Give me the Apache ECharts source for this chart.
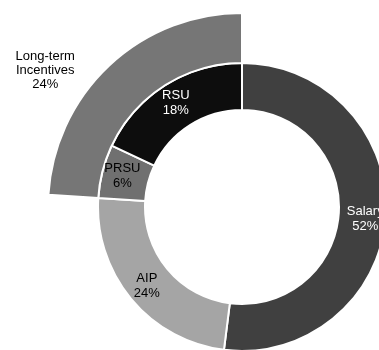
<!DOCTYPE html>
<html>
<head>
<meta charset="utf-8">
<style>
  html, body { margin: 0; padding: 0; background: #fff; }
  #chart { width: 379px; height: 350px; }
</style>
<script src="https://cdn.jsdelivr.net/npm/echarts@6/dist/echarts.min.js"></script>
</head>
<body>
<div id="chart"></div>
<script>
// Pay mix: inner ring breaks down each pay element, outer ring groups the long-term pieces
const titleText = 'CEO Target Total Compensation';

const innerNames = ['Salary', 'AIP', 'PRSU', 'RSU'];
const innerValues = [52, 24, 6, 18];
const innerColors = ['#404040', '#a5a5a5', '#707070', '#0d0d0d'];
const innerLabelColors = ['#ffffff', '#000000', '#000000', '#ffffff'];

const outerNames = ['', 'Long-term\nIncentives'];
const outerValues = [76, 24];
const outerColors = ['transparent', '#767676'];

const FONT = '"Liberation Sans", Arial, sans-serif';

const innerData = innerNames.map((name, i) => ({
  name: name,
  value: innerValues[i],
  itemStyle: { color: innerColors[i] },
  label: { color: innerLabelColors[i] }
}));

const outerData = outerNames.map((name, i) => ({
  name: name,
  value: outerValues[i],
  itemStyle: i === 0
    ? { color: 'transparent', borderWidth: 0 }
    : { color: outerColors[i] },
  label: { show: i !== 0 },
  emphasis: { disabled: true }
}));

const chart = echarts.init(document.getElementById('chart'), null, { renderer: 'canvas' });

chart.setOption({
  animation: false,
  title: {
    text: titleText,
    left: 83,
    top: -13.5,
    padding: 0,
    textStyle: { fontFamily: FONT, fontSize: 14.3, fontWeight: 'normal', color: '#000' }
  },
  series: [
    {
      type: 'pie',
      center: [242, 207],
      radius: [97, 144],
      startAngle: 90,
      clockwise: true,
      silent: true,
      itemStyle: { borderColor: '#ffffff', borderWidth: 2 },
      label: {
        show: true,
        position: 'inside',
        fontFamily: FONT,
        fontSize: 13,
        lineHeight: 15,
        formatter: p => p.name + '\n' + p.value + '%'
      },
      labelLine: { show: false },
      labelLayout: params => params.text.indexOf('Salary') === 0 ? { dy: 4 } : {},
      data: innerData
    },
    {
      type: 'pie',
      center: [242, 207],
      radius: [144, 194],
      startAngle: 90,
      clockwise: true,
      silent: true,
      itemStyle: { borderColor: '#ffffff', borderWidth: 2 },
      label: {
        position: 'outside',
        fontFamily: FONT,
        fontSize: 13,
        lineHeight: 14,
        color: '#000',
        formatter: p => p.name + '\n' + p.value + '%'
      },
      labelLine: { show: false, length: 0, length2: 0 },
      labelLayout: { align: 'center', verticalAlign: 'middle', dx: -59, dy: 5 },
      data: outerData
    }
  ]
});
</script>
</body>
</html>
